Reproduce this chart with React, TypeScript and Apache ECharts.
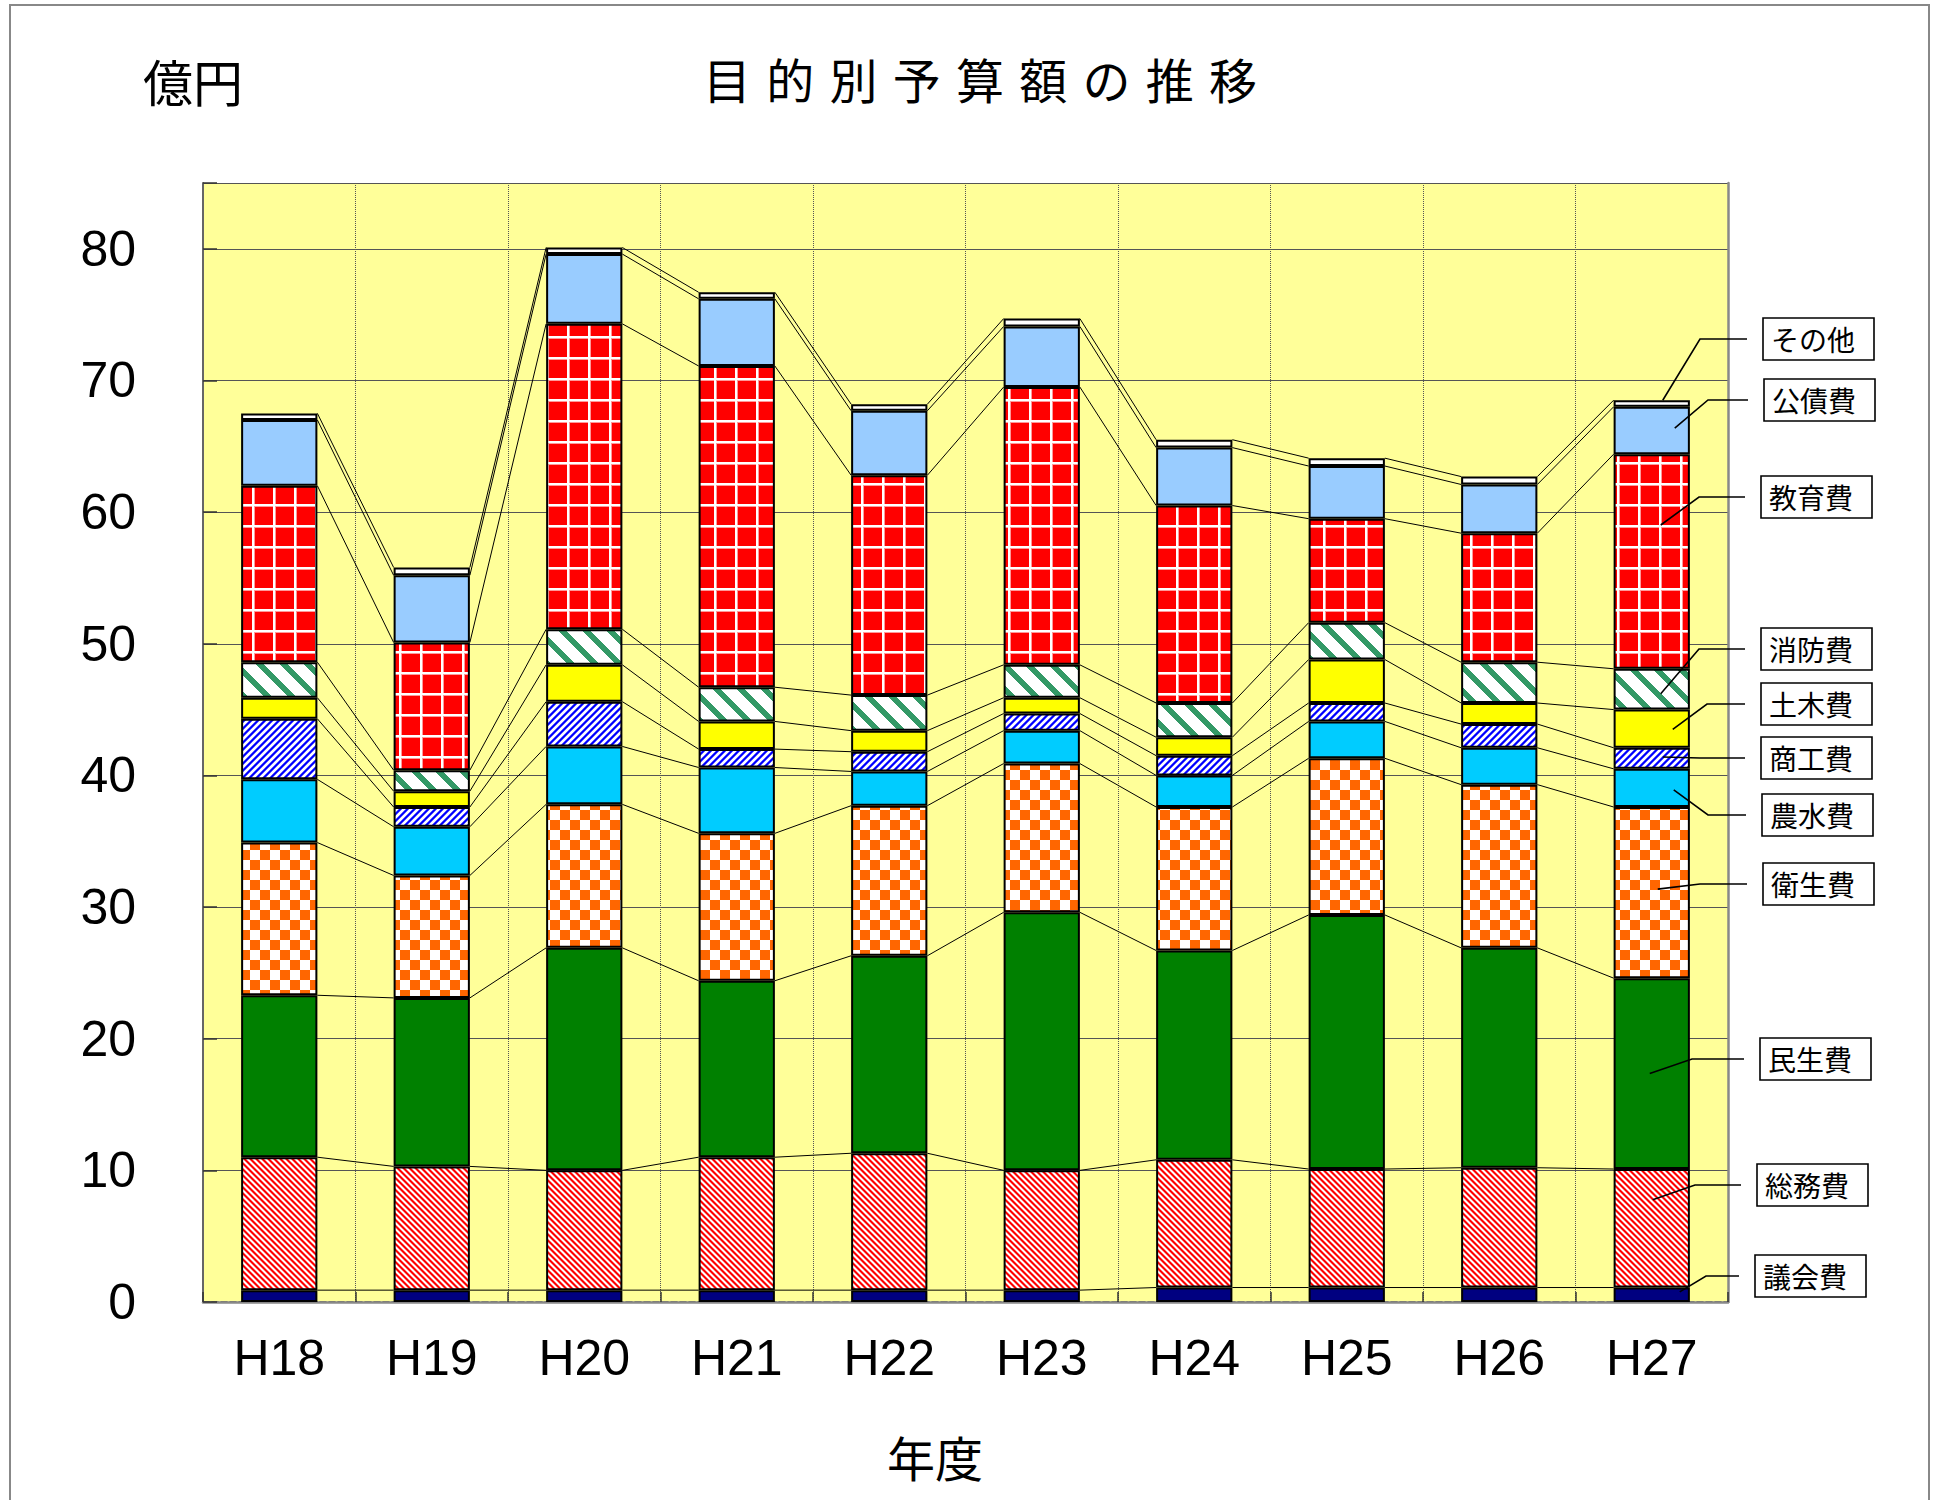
import React, { useEffect, useRef } from 'react';
import * as echarts from 'echarts';

// ---- data (億円) ----
const categories = ['H18', 'H19', 'H20', 'H21', 'H22', 'H23', 'H24', 'H25', 'H26', 'H27'];
const seriesNames = ['議会費', '総務費', '民生費', '衛生費', '農水費', '商工費', '土木費', '消防費', '教育費', '公債費', 'その他'];

const gikaihi = [0.9, 0.9, 0.9, 0.9, 0.9, 0.9, 1.1, 1.1, 1.1, 1.1];
const somuhi = [10.1, 9.4, 9.1, 10.1, 10.4, 9.1, 9.7, 9.0, 9.1, 9.0];
const minseihi = [12.3, 12.8, 16.9, 13.4, 15.0, 19.6, 15.9, 19.3, 16.7, 14.5];
const eiseihi = [11.6, 9.3, 10.9, 11.2, 11.4, 11.3, 10.9, 11.9, 12.4, 13.0];
const nosuihi = [4.8, 3.7, 4.4, 5.0, 2.6, 2.5, 2.4, 2.8, 2.8, 2.9];
const shokohi = [4.6, 1.5, 3.4, 1.4, 1.5, 1.3, 1.5, 1.4, 1.8, 1.6];
const dobokuhi = [1.6, 1.2, 2.8, 2.1, 1.6, 1.2, 1.4, 3.3, 1.6, 2.9];
const shobohi = [2.7, 1.6, 2.7, 2.6, 2.7, 2.5, 2.6, 2.8, 3.1, 3.1];
const kyoikuhi = [13.4, 9.7, 23.2, 24.4, 16.7, 21.1, 15.0, 7.9, 9.8, 16.3];
const kosaihi = [5.0, 5.1, 5.3, 5.1, 4.9, 4.6, 4.4, 4.0, 3.7, 3.6];
const sonota = [0.5, 0.6, 0.5, 0.5, 0.5, 0.6, 0.6, 0.6, 0.6, 0.5];

const yMin = 0;
const yMax = 85;
const yInterval = 10;

const seriesValues = [gikaihi, somuhi, minseihi, eiseihi, nosuihi, shokohi, dobokuhi, shobohi, kyoikuhi, kosaihi, sonota];

// ---- layout of call-out labels (pixels), indexed like seriesNames ----
const boxLeft = [1755, 1757, 1760, 1763, 1762, 1761, 1761, 1761, 1761, 1764, 1763];
const boxTop = [1255, 1164, 1038, 863, 794, 737, 683, 628, 476, 379, 318];
const elbowX = [1706, 1695, 1692, 1700, 1708, 1700, 1707, 1699, 1699, 1708, 1700];
const anchorFrac = [0.7, 0.74, 0.5, 0.52, 0.45, 0.56, 0.48, 0.39, 0.67, 0.55, 1.0];
const anchorDx = [28, 1, -2, 6, 22, 11, 21, 9, 9, 23, 11];
const BOX_W = 111;
const BOX_H = 42;

const LABEL_FONT = "'Liberation Sans Narrow', 'Liberation Sans', sans-serif";
const JP_FONT = "'Noto Sans CJK JP', sans-serif";

function tile(w: number, h: number, fn: (x: number, y: number) => string) {
  const c = document.createElement('canvas');
  c.width = w;
  c.height = h;
  const ctx = c.getContext('2d')!;
  for (let y = 0; y < h; y++) {
    for (let x = 0; x < w; x++) {
      ctx.fillStyle = fn(x, y);
      ctx.fillRect(x, y, 1, 1);
    }
  }
  return { image: c as any, repeat: 'repeat', imageWidth: w, imageHeight: h };
}

const mod = (a: number, n: number) => ((a % n) + n) % n;

function makeFills(): any[] {
  const redStripe = tile(6, 6, (x, y) => {
    const m = mod(x - y, 6);
    if (m < 2) return '#FFFFFF';
    if (m === 2 || m === 5) return '#FF8080';
    return '#FF0000';
  });
  const checker = tile(20, 20, (x, y) => ((Math.floor(x / 10) + Math.floor(y / 10)) % 2 ? '#FF6600' : '#FFFFFF'));
  const blueStripe = tile(7, 7, (x, y) => {
    const m = mod(x + y, 7);
    if (m < 3) return '#FFFFFF';
    if (m === 3 || m === 6) return '#6666FF';
    return '#0000FF';
  });
  const greenStripe = tile(24, 24, (x, y) => (mod(x - y, 24) < 8 ? '#339966' : '#FFFFFF'));
  const redGrid = tile(21, 21, (x, y) => {
    if (x <= 1 || y <= 1) return '#FFFFFF';
    if (x === 2 || y === 2) return '#FF9999';
    return '#FF0000';
  });
  return [
    '#000080',
    redStripe,
    '#008000',
    checker,
    '#00CCFF',
    blueStripe,
    '#FFFF00',
    greenStripe,
    redGrid,
    '#99CCFF',
    '#FFFFFF',
  ];
}

export default function App() {
  const ref = useRef<HTMLDivElement>(null);

  useEffect(() => {
    if (!ref.current) return;
    const chart = echarts.init(ref.current, undefined, { renderer: 'svg' });

    // cumulative tops per series
    const cum: number[][] = [];
    seriesValues.forEach((vals, s) => {
      cum.push(vals.map((v, i) => +(v + (s > 0 ? cum[s - 1][i] : 0)).toFixed(3)));
    });

    const fills = makeFills();

    const barSeries = seriesNames.map((name, s) => ({
      type: 'bar',
      name,
      stack: 'total',
      data: seriesValues[s],
      barWidth: '50%',
      itemStyle: { color: fills[s], borderColor: '#000', borderWidth: 2 },
      z: 3,
      silent: true,
    }));

    const lineData: number[][] = [];
    for (let s = 0; s < seriesNames.length; s++) {
      for (let i = 0; i < categories.length - 1; i++) lineData.push([i, s]);
    }

    const seriesLines = {
      type: 'custom',
      coordinateSystem: 'cartesian2d',
      clip: false,
      silent: true,
      z: 2,
      encode: { x: 0, y: 1 },
      data: lineData,
      renderItem: (params: any, api: any) => {
        const i = api.value(0);
        const s = api.value(1);
        const p1 = api.coord([i, cum[s][i]]);
        const p2 = api.coord([i + 1, cum[s][i + 1]]);
        const bw = api.size([1, 0])[0] * 0.5;
        return {
          type: 'line',
          shape: { x1: p1[0] + bw / 2, y1: p1[1], x2: p2[0] - bw / 2, y2: p2[1] },
          style: { stroke: '#000', lineWidth: 1 },
        };
      },
    };

    const last = categories.length - 1;
    const calloutData = seriesNames.map((_, s) => {
      const base = s > 0 ? cum[s - 1][last] : 0;
      return [last, base + anchorFrac[s] * seriesValues[s][last], s];
    });

    const callouts = {
      type: 'custom',
      coordinateSystem: 'cartesian2d',
      clip: false,
      silent: true,
      z: 10,
      encode: { x: 0, y: 1 },
      data: calloutData,
      renderItem: (params: any, api: any) => {
        const s = api.value(2);
        const pt = api.coord([api.value(0), api.value(1)]);
        const left = boxLeft[s];
        const top = boxTop[s];
        const cy = top + BOX_H / 2;
        return {
          type: 'group',
          children: [
            {
              type: 'polyline',
              shape: { points: [[pt[0] + anchorDx[s], pt[1]], [elbowX[s], cy], [left - 16, cy]] },
              style: { stroke: '#000', lineWidth: 1.6, fill: null },
            },
            {
              type: 'rect',
              shape: { x: left, y: top, width: BOX_W, height: BOX_H },
              style: { fill: '#fff', stroke: '#000', lineWidth: 1.6 },
            },
            {
              type: 'text',
              style: {
                text: seriesNames[s],
                x: left + 8,
                y: cy,
                align: 'left',
                verticalAlign: 'middle',
                fontSize: 28,
                fontFamily: JP_FONT,
                fill: '#000',
              },
            },
          ],
        };
      },
    };

    const option: any = {
      animation: false,
      backgroundColor: '#ffffff',
      textStyle: { fontFamily: JP_FONT },
      grid: {
        left: 203,
        top: 183,
        right: 213,
        bottom: 198,
        show: true,
        backgroundColor: '#FFFF99',
        borderWidth: 0,
      },
      xAxis: [
        {
          type: 'category',
          data: categories,
          boundaryGap: true,
          axisLine: { show: true, lineStyle: { color: '#333', width: 1.5, type: 'dashed' } },
          axisTick: { show: true, inside: true, length: 10, lineStyle: { color: '#333', width: 1.5 } },
          axisLabel: { fontSize: 50, fontFamily: LABEL_FONT, color: '#000', margin: 31 },
          splitLine: { show: true, lineStyle: { color: '#555', width: 1, type: 'dotted' } },
        },
        {
          type: 'category',
          data: categories,
          position: 'top',
          axisLine: { show: true, lineStyle: { color: '#888', width: 2.5 } },
          axisTick: { show: false },
          axisLabel: { show: false },
          splitLine: { show: false },
        },
      ],
      yAxis: [
        {
          type: 'value',
          min: yMin,
          max: yMax,
          interval: yInterval,
          axisLine: { show: true, lineStyle: { color: '#666', width: 2 } },
          axisTick: { show: true, inside: true, length: 14, lineStyle: { color: '#333', width: 1.5 } },
          axisLabel: {
            fontSize: 50,
            fontFamily: LABEL_FONT,
            color: '#000',
            margin: 67,
            formatter: (v: number) => (v % yInterval === 0 ? String(v) : ''),
          },
          splitLine: { show: true, lineStyle: { color: '#555', width: 1 } },
        },
        {
          type: 'value',
          min: yMin,
          max: yMax,
          interval: yInterval,
          position: 'right',
          axisLine: { show: true, lineStyle: { color: '#888', width: 2.5 } },
          axisTick: { show: false },
          axisLabel: { show: false },
          splitLine: { show: false },
        },
      ],
      graphic: [
        {
          type: 'rect',
          silent: true,
          shape: { x: 10, y: 5, width: 1919, height: 1530 },
          style: { fill: 'none', stroke: '#888', lineWidth: 2 },
        },
        {
          type: 'text',
          x: 980,
          y: 82,
          style: {
            text: '目 的 別 予 算 額 の 推 移',
            fontSize: 48,
            fontFamily: "'DejaVu Sans', 'Noto Sans CJK JP', sans-serif",
            align: 'center',
            verticalAlign: 'middle',
            fill: '#000',
          },
        },
        {
          type: 'text',
          x: 143,
          y: 80,
          style: {
            text: '億円',
            fontSize: 50,
            fontFamily: JP_FONT,
            align: 'left',
            verticalAlign: 'middle',
            fill: '#000',
          },
        },
        {
          type: 'text',
          x: 935,
          y: 1456,
          style: {
            text: '年度',
            fontSize: 48,
            fontFamily: JP_FONT,
            align: 'center',
            verticalAlign: 'middle',
            fill: '#000',
          },
        },
      ],
      series: [...barSeries, seriesLines, callouts],
    };

    chart.setOption(option);
    return () => chart.dispose();
  }, []);

  return (
    <div
      ref={ref}
      style={{ position: 'absolute', left: 0, top: 0, width: 1941, height: 1500, background: '#fff' }}
    />
  );
}
